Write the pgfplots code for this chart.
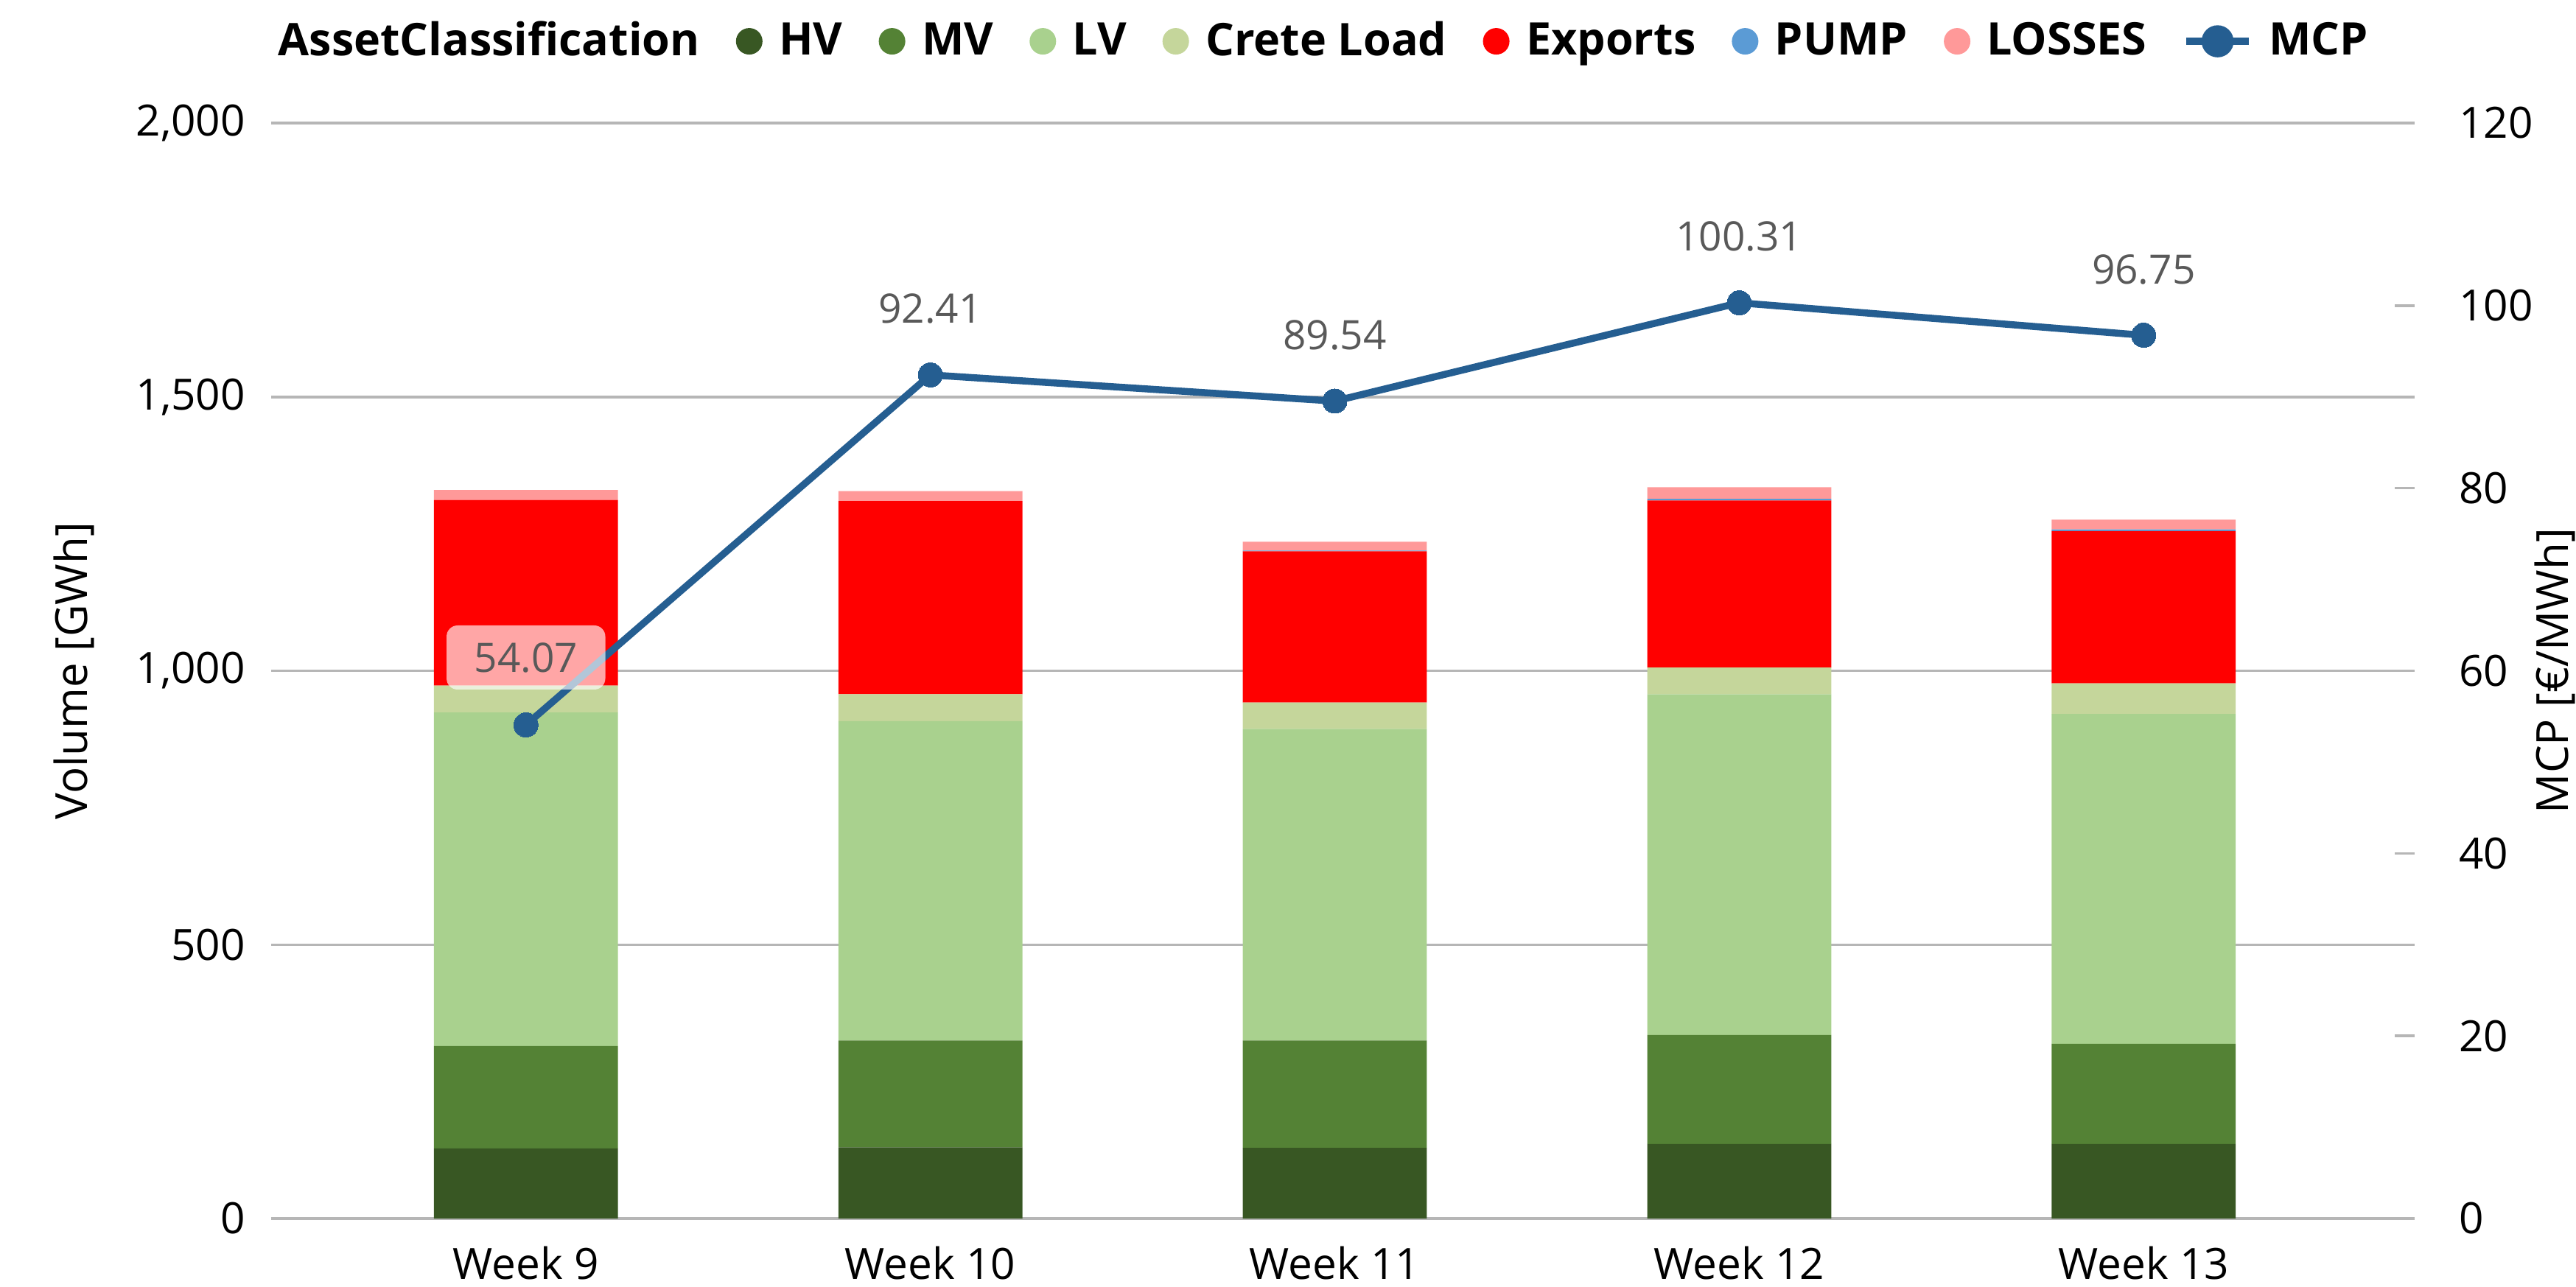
\documentclass[border=0pt]{standalone}
\usepackage{fontspec}
\setmainfont{Open Sans}
\usepackage{pgfplots}
\pgfplotsset{compat=1.18}
\definecolor{HVc}{HTML}{385723}
\definecolor{MVc}{HTML}{548235}
\definecolor{LVc}{HTML}{A9D18E}
\definecolor{CRc}{HTML}{C5D69B}
\definecolor{EXc}{HTML}{FF0000}
\definecolor{PUc}{HTML}{5B9BD5}
\definecolor{LOc}{HTML}{FF9999}
\definecolor{MCPc}{HTML}{255E91}
\definecolor{gridgray}{HTML}{B6B6B6}
\definecolor{labgray}{HTML}{595959}
\begin{document}
\begin{tikzpicture}
\useasboundingbox (-73.6pt,-18.4pt) rectangle (625.6pt,330.8pt);
\begin{axis}[
  scale only axis, width=581.8pt, height=297.4pt,
  at={(0pt,0pt)}, anchor=south west,
  ybar stacked, bar width=0.455,
  xmin=-0.63, xmax=4.67, ymin=0, ymax=2000,
  xtick={0,1,2,3,4},
  xticklabels={Week 9,Week 10,Week 11,Week 12,Week 13},
  ytick={0,500,1000,1500,2000},
  ymajorgrids, grid style={draw=gridgray, line width=0.7pt},
  axis line style={draw=none},
  major tick length=0pt,
  xtick style={draw=none}, ytick style={draw=none},
  tick label style={font=\fontsize{11.7}{14}\selectfont},
  /pgf/number format/1000 sep={,},
  /pgf/number format/assume math mode=true,
  yticklabel style={xshift=-3.5pt},
  xticklabel style={yshift=-4pt},
  ylabel={Volume [GWh]},
  ylabel style={at={(axis description cs:-0.0921,0.5)}, anchor=center, font=\fontsize{12}{14}\selectfont},
]
\addplot[fill=HVc, draw=none] coordinates {(0,128) (1,130) (2,129) (3,136) (4,136)};
\addplot[fill=MVc, draw=none] coordinates {(0,187) (1,195) (2,196) (3,199) (4,183)};
\addplot[fill=LVc, draw=none] coordinates {(0,609) (1,583) (2,569) (3,622) (4,602)};
\addplot[fill=CRc, draw=none] coordinates {(0,49) (1,49) (2,48) (3,49) (4,56)};
\addplot[fill=EXc, draw=none] coordinates {(0,339) (1,353) (2,276) (3,305) (4,278)};
\addplot[fill=PUc, draw=none] coordinates {(0,0) (1,0) (2,1.5) (3,3) (4,3)};
\addplot[fill=LOc, draw=none] coordinates {(0,18) (1,18) (2,16) (3,21) (4,18)};
\end{axis}
\begin{axis}[
  scale only axis, width=581.8pt, height=297.4pt,
  at={(0pt,0pt)}, anchor=south west,
  xmin=-0.63, xmax=4.67, ymin=0, ymax=120,
  hide x axis,
  axis y line*=right,
  axis line style={draw=none},
  ytick={0,20,40,60,80,100,120},
  tick align=inside,
  major tick length=5.4pt,
  ytick style={draw=gridgray, line width=0.7pt},
  tick label style={font=\fontsize{11.7}{14}\selectfont},
  /pgf/number format/assume math mode=true,
  yticklabel style={xshift=8.5pt},
  ylabel={MCP [€/MWh]},
  ylabel style={at={(axis description cs:1.0653,0.5)}, anchor=center, font=\fontsize{12}{14}\selectfont},
  legend columns=-1,
  legend style={at={(axis description cs:0.4887,1.0746)}, anchor=center, draw=none, fill=none,
    font=\bfseries\fontsize{12.2}{14}\selectfont,
    /tikz/every odd column/.append style={column sep=2.5pt},
    /tikz/every even column/.append style={column sep=7.8pt}},
]
\addlegendimage{empty legend}
\addlegendentry{AssetClassification}
\addlegendimage{legend image code/.code={\fill[HVc] (3.4pt,0pt) circle (3.4pt);}}
\addlegendentry{HV}
\addlegendimage{legend image code/.code={\fill[MVc] (3.4pt,0pt) circle (3.4pt);}}
\addlegendentry{MV}
\addlegendimage{legend image code/.code={\fill[LVc] (3.4pt,0pt) circle (3.4pt);}}
\addlegendentry{LV}
\addlegendimage{legend image code/.code={\fill[CRc] (3.4pt,0pt) circle (3.4pt);}}
\addlegendentry{Crete Load}
\addlegendimage{legend image code/.code={\fill[EXc] (3.4pt,0pt) circle (3.4pt);}}
\addlegendentry{Exports}
\addlegendimage{legend image code/.code={\fill[PUc] (3.4pt,0pt) circle (3.4pt);}}
\addlegendentry{PUMP}
\addlegendimage{legend image code/.code={\fill[LOc] (3.4pt,0pt) circle (3.4pt);}}
\addlegendentry{LOSSES}
\addplot[color=MCPc, line width=1.9pt, mark=*, mark size=3.3pt, mark options={fill=MCPc, draw=MCPc, line width=0pt},
  legend image code/.code={\draw[MCPc, line width=1.9pt] (0pt,0pt) -- (17pt,0pt); \fill[MCPc] (8.5pt,0pt) circle (3.4pt);}]
  coordinates {(0,54.07) (1,92.41) (2,89.54) (3,100.31) (4,96.75)};
\addlegendentry{MCP}
\addplot[draw=none, mark=none, forget plot,
  nodes near coords, point meta=explicit symbolic,
  nodes near coords style={anchor=base, yshift=14pt, text=labgray, font=\fontsize{11}{13}\selectfont}]
  coordinates {(1,92.41) [92.41] (2,89.54) [89.54] (3,100.31) [100.31] (4,96.75) [96.75]};
\addplot[draw=none, mark=none, forget plot,
  nodes near coords, point meta=explicit symbolic,
  nodes near coords style={anchor=south, yshift=9.4pt, text=labgray, font=\fontsize{11}{13}\selectfont,
    fill=white, fill opacity=0.65, text opacity=1, rounded corners=3pt,
    text height=8pt, text depth=0pt, inner ysep=4.7pt, inner xsep=7.5pt}]
  coordinates {(0,54.07) [54.07]};
\end{axis}
\end{tikzpicture}
\end{document}
